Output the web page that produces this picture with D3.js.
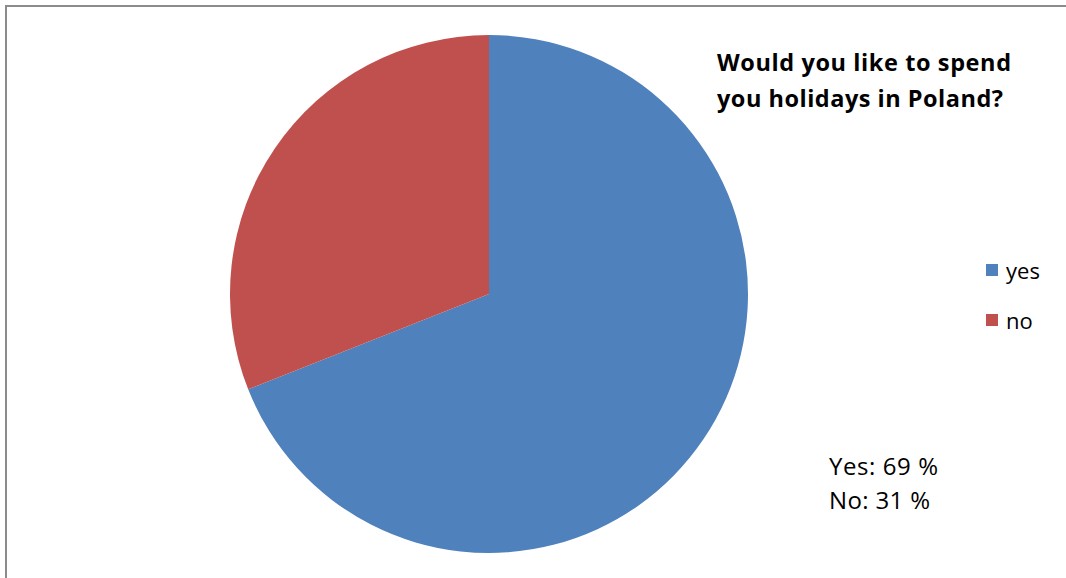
<!DOCTYPE html>
<html>
<head>
<meta charset="utf-8">
<script src="https://cdn.jsdelivr.net/npm/d3@7"></script>
<style>
  html, body { margin: 0; padding: 0; background: #fff; }
  svg { display: block; }
  text { font-family: "Open Sans", Lato, "Liberation Sans", sans-serif; fill: #000; }
</style>
</head>
<body>
<svg id="chart" width="1066" height="578"></svg>
<script>
// Survey answers
const categories = ["yes", "no"];
const shares = [69, 31];
const colors = ["#4f81bd", "#c0504d"];
const titleLines = ["Would you like to spend", "you holidays in Poland?"];
const summaryLines = ["Yes: 69 %", "No: 31 %"];

const svg = d3.select("#chart");
const W = 1066, H = 578;

// Chart frame (runs off the right and bottom edges)
svg.append("rect")
  .attr("x", 6).attr("y", 6)
  .attr("width", W + 10).attr("height", H + 10)
  .attr("fill", "#fff")
  .attr("stroke", "#8c8c8c")
  .attr("stroke-width", 2);

// Pie
const cx = 489, cy = 294, r = 259;
const pie = d3.pie().sort(null).value(d => d)(shares);
const arc = d3.arc().innerRadius(0).outerRadius(r);

svg.append("g")
  .attr("transform", `translate(${cx},${cy})`)
  .selectAll("path")
  .data(pie)
  .join("path")
  .attr("d", arc)
  .attr("fill", (d, i) => colors[i]);

// Title
const titleWidths = [294, 286];
svg.append("text")
  .attr("font-size", 23.5)
  .attr("font-weight", "bold")
  .selectAll("tspan")
  .data(titleLines)
  .join("tspan")
  .attr("x", 717)
  .attr("y", (d, i) => 71 + i * 36)
  .attr("textLength", (d, i) => titleWidths[i])
  .attr("lengthAdjust", "spacing")
  .text(d => d);

// Legend
const legend = svg.append("g")
  .selectAll("g")
  .data(categories)
  .join("g")
  .attr("transform", (d, i) => `translate(986,${264 + i * 50})`);
legend.append("rect")
  .attr("width", 12).attr("height", 12)
  .attr("fill", (d, i) => colors[i]);
legend.append("text")
  .attr("x", 20).attr("y", 15)
  .attr("font-size", 22)
  .text(d => d);

// Summary text
const summaryWidths = [109, 101];
svg.append("text")
  .attr("font-size", 24)
  .selectAll("tspan")
  .data(summaryLines)
  .join("tspan")
  .attr("x", 829)
  .attr("y", (d, i) => 475 + i * 34)
  .attr("textLength", (d, i) => summaryWidths[i])
  .attr("lengthAdjust", "spacing")
  .text(d => d);
</script>
</body>
</html>
